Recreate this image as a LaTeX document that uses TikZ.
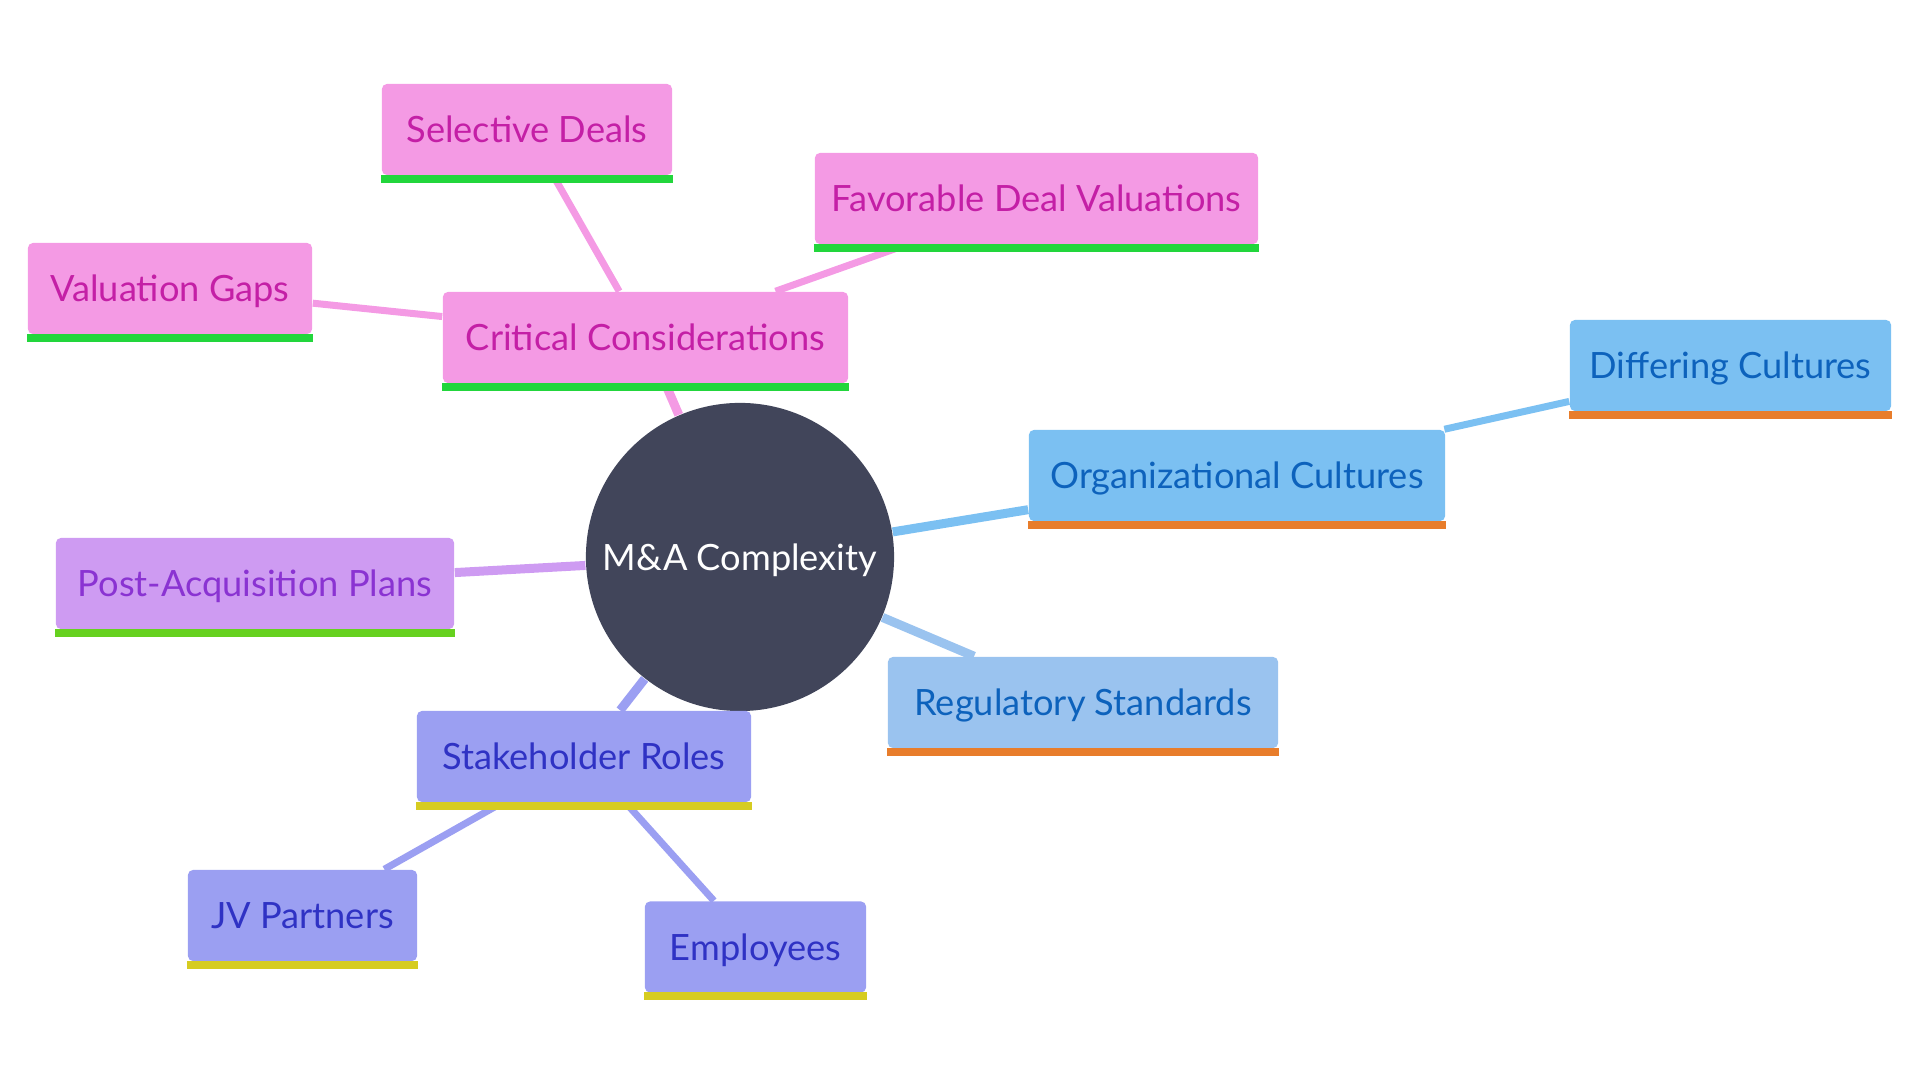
\documentclass[tikz,border=0pt]{standalone}
\usepackage{fontspec}
\setmainfont{Lato}
\usetikzlibrary{backgrounds}
\definecolor{rootFill}{HTML}{41455A}
\definecolor{pinkFill}{HTML}{F49AE4}
\definecolor{pinkText}{HTML}{C41FA6}
\definecolor{greenBar}{HTML}{22D63C}
\definecolor{postFill}{HTML}{CE9BF2}
\definecolor{postText}{HTML}{8A33D2}
\definecolor{limeBar}{HTML}{66D11F}
\definecolor{orgFill}{HTML}{7BC0F2}
\definecolor{regFill}{HTML}{9AC3EF}
\definecolor{blueText}{HTML}{0D62BC}
\definecolor{orangeBar}{HTML}{E87D2B}
\definecolor{stakeFill}{HTML}{9B9FF2}
\definecolor{stakeText}{HTML}{2F32C4}
\definecolor{yellowBar}{HTML}{D6CC21}
\tikzset{
	box/.style={rectangle, rounded corners=0.05cm, minimum height=0.91cm, inner sep=0pt,
		text height=7.4pt, text depth=0pt, font=\fontsize{10.3}{12}\selectfont},
	pinkbox/.style={box, fill=pinkFill, text=pinkText},
	postbox/.style={box, fill=postFill, text=postText},
	orgbox/.style={box, fill=orgFill, text=blueText},
	regbox/.style={box, fill=regFill, text=blueText},
	stakebox/.style={box, fill=stakeFill, text=stakeText},
	branch/.style={line width=0.09cm},
	twig/.style={line width=0.07cm},
}

\begin{document}
\begin{tikzpicture}[x=0.01cm, y=-0.01cm]
	\useasboundingbox (0,0) rectangle (1920,1080);
	
	\node[circle, fill=rootFill, text=white, minimum size=3.08cm, inner sep=0pt,
		text height=7.4pt, text depth=0pt, font=\fontsize{10.3}{12}\selectfont] (root) at (740,557) {M\&A Complexity};
	
	\node[pinkbox, minimum width=4.05cm] (crit) at (645.5,337.5) {Critical Considerations};
	\node[pinkbox, minimum width=2.90cm] (sel) at (527,129.5) {Selective Deals};
	\node[pinkbox, minimum width=4.43cm] (fav) at (1036.5,198.5) {Favorable Deal Valuations};
	\node[pinkbox, minimum width=2.84cm] (gaps) at (170,288.5) {Valuation Gaps};
	\node[postbox, minimum width=3.98cm] (post) at (255,583.5) {Post-Acquisition Plans};
	\node[orgbox, minimum width=4.16cm] (org) at (1237,475.5) {Organizational Cultures};
	\node[orgbox, minimum width=3.21cm] (diff) at (1730.5,365.5) {Differing Cultures};
	\node[regbox, minimum width=3.90cm] (reg) at (1083,702.5) {Regulatory Standards};
	\node[stakebox, minimum width=3.34cm] (stake) at (584,756.5) {Stakeholder Roles};
	\node[stakebox, minimum width=2.29cm] (jv) at (302.5,915.5) {JV Partners};
	\node[stakebox, minimum width=2.21cm] (emp) at (755.5,947) {Employees};
	
	\foreach \n/\c in {crit/greenBar, sel/greenBar, fav/greenBar, gaps/greenBar, post/limeBar,
		org/orangeBar, diff/orangeBar, reg/orangeBar, stake/yellowBar, jv/yellowBar, emp/yellowBar}
	{
		\fill[\c] ([yshift=0.01cm]\n.south west) rectangle ([yshift=-0.07cm]\n.south east);
	}
	
	\begin{scope}[on background layer]
		\draw[branch, pinkFill] (root) -- (crit);
		\draw[branch, postFill] (root) -- (post);
		\draw[branch, orgFill] (root) -- (org);
		\draw[branch, regFill] (root) -- (reg);
		\draw[branch, stakeFill] (root) -- (stake);
		\draw[twig, pinkFill] (crit) -- (sel);
		\draw[twig, pinkFill] (crit) -- (fav);
		\draw[twig, pinkFill] (crit) -- (gaps);
		\draw[twig, orgFill] (org) -- (diff);
		\draw[twig, stakeFill] (stake) -- (jv);
		\draw[twig, stakeFill] (stake) -- (emp);
	\end{scope}
\end{tikzpicture}
\end{document}
